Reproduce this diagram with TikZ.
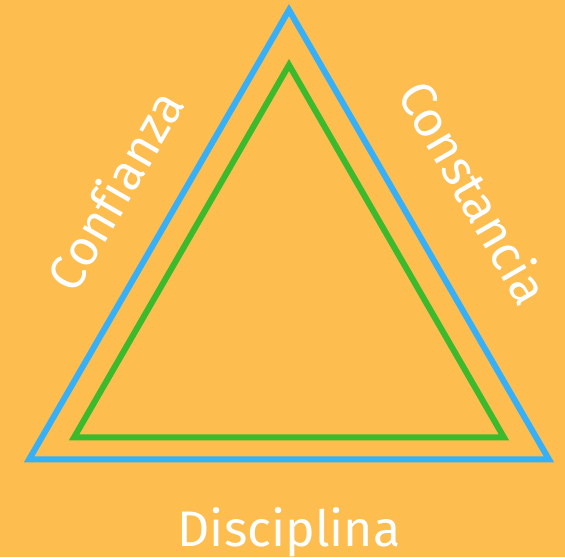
\documentclass[tikz,border=0pt]{standalone}
\usepackage{fontspec}
\setmainfont[Ligatures=NoCommon]{Fira Sans}
\definecolor{bgc}{RGB}{253,189,79}
\definecolor{bluec}{RGB}{54,176,248}
\definecolor{greenc}{RGB}{58,186,44}
\begin{document}
\begin{tikzpicture}[x=1pt,y=1pt,
  tri/.style={line width=6pt,line join=miter},
  lbl/.style={text=white,font=\fontsize{50}{50}\selectfont,inner sep=0pt}]
\fill[bgc] (0,0) rectangle (565,557);
\useasboundingbox (0,0) rectangle (565,557);
% outer (blue) triangle
\coordinate (bA) at (289,547);
\coordinate (bL) at (29,97.5);
\coordinate (bR) at (549,97.5);
% inner (green) triangle
\coordinate (gA) at (289,492);
\coordinate (gL) at (74,119.5);
\coordinate (gR) at (504,119.5);
\draw[tri,bluec] (bA) -- (bL) -- (bR) -- cycle;
\draw[tri,greenc] (gA) -- (gL) -- (gR) -- cycle;
\node[lbl,rotate=60] (conf) at (114,367) {Confianza};
\node[lbl,rotate=-60] (cons) at (475,365) {Constancia};
\node[lbl,anchor=base] (disc) at (289,11) {Disciplina};
\end{tikzpicture}
\end{document}
